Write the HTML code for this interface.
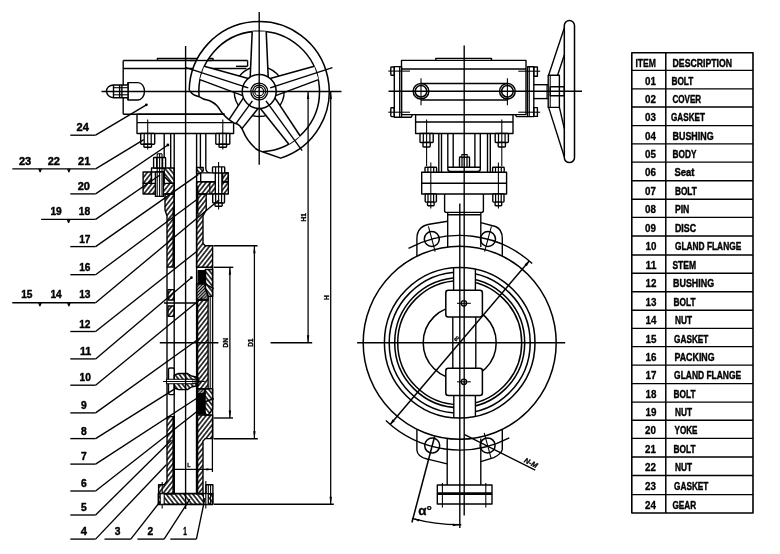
<!DOCTYPE html>
<html lang="en"><head><meta charset="utf-8"><title>Butterfly valve - parts list</title>
<style>
html,body{margin:0;padding:0;background:#fff;}
body{width:780px;height:554px;overflow:hidden;}
svg{display:block;font-family:"Liberation Sans",sans-serif;filter:grayscale(1);}
</style></head><body>
<svg width="780" height="554" viewBox="0 0 780 554" stroke="#000" fill="none" stroke-linecap="butt" stroke-linejoin="round">
<defs>
<pattern id="h1" width="3.5" height="3.5" patternUnits="userSpaceOnUse" patternTransform="rotate(-52)"><line x1="-1" y1="1.75" x2="4.5" y2="1.75" stroke="#000" stroke-width="1.45"/></pattern>
<pattern id="h2" width="3.5" height="3.5" patternUnits="userSpaceOnUse" patternTransform="rotate(52)"><line x1="-1" y1="1.75" x2="4.5" y2="1.75" stroke="#000" stroke-width="1.45"/></pattern>
<pattern id="h3" width="2.2" height="2.2" patternUnits="userSpaceOnUse" patternTransform="rotate(-45)"><line x1="-1" y1="1.1" x2="3.2" y2="1.1" stroke="#000" stroke-width="1.3"/></pattern>
</defs>
<rect x="0" y="0" width="780" height="554" fill="#fff" stroke="none"/>
<g id="parts-table">
<rect x="631.8" y="52.75" width="121.2" height="460.25" rx="0" fill="none" stroke-width="1.6"/>
<line x1="665.8" y1="52.75" x2="665.8" y2="513" stroke-width="1.5"/>
<line x1="631.8" y1="70.4" x2="753" y2="70.4" stroke-width="1.4"/>
<line x1="631.8" y1="88.9" x2="753" y2="88.9" stroke-width="1.4"/>
<line x1="631.8" y1="107" x2="753" y2="107" stroke-width="1.4"/>
<line x1="631.8" y1="125.6" x2="753" y2="125.6" stroke-width="1.4"/>
<line x1="631.8" y1="143.9" x2="753" y2="143.9" stroke-width="1.4"/>
<line x1="631.8" y1="162.1" x2="753" y2="162.1" stroke-width="1.4"/>
<line x1="631.8" y1="180.7" x2="753" y2="180.7" stroke-width="1.4"/>
<line x1="631.8" y1="199.2" x2="753" y2="199.2" stroke-width="1.4"/>
<line x1="631.8" y1="217.4" x2="753" y2="217.4" stroke-width="1.4"/>
<line x1="631.8" y1="236" x2="753" y2="236" stroke-width="1.4"/>
<line x1="631.8" y1="255" x2="753" y2="255" stroke-width="1.4"/>
<line x1="631.8" y1="273.2" x2="753" y2="273.2" stroke-width="1.4"/>
<line x1="631.8" y1="291.7" x2="753" y2="291.7" stroke-width="1.4"/>
<line x1="631.8" y1="310.2" x2="753" y2="310.2" stroke-width="1.4"/>
<line x1="631.8" y1="328.4" x2="753" y2="328.4" stroke-width="1.4"/>
<line x1="631.8" y1="346.6" x2="753" y2="346.6" stroke-width="1.4"/>
<line x1="631.8" y1="365.1" x2="753" y2="365.1" stroke-width="1.4"/>
<line x1="631.8" y1="383.6" x2="753" y2="383.6" stroke-width="1.4"/>
<line x1="631.8" y1="402.1" x2="753" y2="402.1" stroke-width="1.4"/>
<line x1="631.8" y1="420.2" x2="753" y2="420.2" stroke-width="1.4"/>
<line x1="631.8" y1="438.4" x2="753" y2="438.4" stroke-width="1.4"/>
<line x1="631.8" y1="457" x2="753" y2="457" stroke-width="1.4"/>
<line x1="631.8" y1="475.5" x2="753" y2="475.5" stroke-width="1.4"/>
<line x1="631.8" y1="494.6" x2="753" y2="494.6" stroke-width="1.4"/>
<text transform="translate(635.4 66.95) scale(0.8619 1.0562)" x="-0.000" y="0" font-size="10" font-weight="bold" stroke="#000" stroke-width="0.3" fill="#000">ITEM</text>
<text transform="translate(672.6 66.95) scale(0.8691 1.0562)" x="-0.000" y="0" font-size="10" font-weight="bold" stroke="#000" stroke-width="0.4" fill="#000">DESCRIPTION</text>
<text transform="translate(645.1 84.6) scale(0.9820 1.0219)" x="-0.000" y="0" font-size="10" font-weight="bold" stroke="#000" stroke-width="0.3" fill="#000">01</text>
<text transform="translate(671.4 84.6) scale(0.8302 1.0219)" x="-0.000" y="0" font-size="10" font-weight="bold" stroke="#000" stroke-width="0.4" fill="#000">BOLT</text>
<text transform="translate(645.1 103.1) scale(0.9820 1.0219)" x="-0.000" y="0" font-size="10" font-weight="bold" stroke="#000" stroke-width="0.3" fill="#000">02</text>
<text transform="translate(672.4 103.1) scale(0.8101 1.0219)" x="-0.000" y="0" font-size="10" font-weight="bold" stroke="#000" stroke-width="0.4" fill="#000">COVER</text>
<text transform="translate(645.1 121.2) scale(0.9820 1.0219)" x="-0.000" y="0" font-size="10" font-weight="bold" stroke="#000" stroke-width="0.3" fill="#000">03</text>
<text transform="translate(671 121.2) scale(0.8163 1.0219)" x="-0.000" y="0" font-size="10" font-weight="bold" stroke="#000" stroke-width="0.4" fill="#000">GASKET</text>
<text transform="translate(645.1 139.8) scale(0.9820 1.0219)" x="-0.000" y="0" font-size="10" font-weight="bold" stroke="#000" stroke-width="0.3" fill="#000">04</text>
<text transform="translate(672.6 139.8) scale(0.8894 1.0219)" x="-0.000" y="0" font-size="10" font-weight="bold" stroke="#000" stroke-width="0.4" fill="#000">BUSHING</text>
<text transform="translate(645.1 158.1) scale(0.9820 1.0219)" x="-0.000" y="0" font-size="10" font-weight="bold" stroke="#000" stroke-width="0.3" fill="#000">05</text>
<text transform="translate(672.6 158.1) scale(0.8270 1.0219)" x="-0.000" y="0" font-size="10" font-weight="bold" stroke="#000" stroke-width="0.4" fill="#000">BODY</text>
<text transform="translate(645.1 176.3) scale(0.9820 1.0219)" x="-0.000" y="0" font-size="10" font-weight="bold" stroke="#000" stroke-width="0.3" fill="#000">06</text>
<text transform="translate(674.5 176.3) scale(0.9431 1.0219)" x="-0.000" y="0" font-size="10" font-weight="bold" stroke="#000" stroke-width="0.4" fill="#000">Seat</text>
<text transform="translate(645.1 194.9) scale(0.9820 1.0219)" x="-0.000" y="0" font-size="10" font-weight="bold" stroke="#000" stroke-width="0.3" fill="#000">07</text>
<text transform="translate(674.9 194.9) scale(0.8302 1.0219)" x="-0.000" y="0" font-size="10" font-weight="bold" stroke="#000" stroke-width="0.4" fill="#000">BOLT</text>
<text transform="translate(645.1 213.4) scale(0.9820 1.0219)" x="-0.000" y="0" font-size="10" font-weight="bold" stroke="#000" stroke-width="0.3" fill="#000">08</text>
<text transform="translate(674.9 213.4) scale(0.8649 1.0219)" x="-0.000" y="0" font-size="10" font-weight="bold" stroke="#000" stroke-width="0.4" fill="#000">PIN</text>
<text transform="translate(645.1 231.6) scale(0.9820 1.0219)" x="-0.000" y="0" font-size="10" font-weight="bold" stroke="#000" stroke-width="0.3" fill="#000">09</text>
<text transform="translate(674.9 231.6) scale(0.8870 1.0219)" x="-0.000" y="0" font-size="10" font-weight="bold" stroke="#000" stroke-width="0.4" fill="#000">DISC</text>
<text transform="translate(645.6 250.2) scale(0.9820 1.0219)" x="-0.000" y="0" font-size="10" font-weight="bold" stroke="#000" stroke-width="0.3" fill="#000">10</text>
<text transform="translate(674.9 250.2) scale(0.8357 1.0219)" x="-0.000" y="0" font-size="10" font-weight="bold" stroke="#000" stroke-width="0.4" fill="#000">GLAND FLANGE</text>
<text transform="translate(645.6 269.2) scale(1.0332 1.0219)" x="-0.000" y="0" font-size="10" font-weight="bold" stroke="#000" stroke-width="0.3" fill="#000">11</text>
<text transform="translate(672.4 269.2) scale(0.8525 1.0219)" x="-0.000" y="0" font-size="10" font-weight="bold" stroke="#000" stroke-width="0.4" fill="#000">STEM</text>
<text transform="translate(645.6 287.4) scale(0.9820 1.0219)" x="-0.000" y="0" font-size="10" font-weight="bold" stroke="#000" stroke-width="0.3" fill="#000">12</text>
<text transform="translate(673.1 287.4) scale(0.8894 1.0219)" x="-0.000" y="0" font-size="10" font-weight="bold" stroke="#000" stroke-width="0.4" fill="#000">BUSHING</text>
<text transform="translate(645.6 305.9) scale(0.9820 1.0219)" x="-0.000" y="0" font-size="10" font-weight="bold" stroke="#000" stroke-width="0.3" fill="#000">13</text>
<text transform="translate(673.5 305.9) scale(0.8302 1.0219)" x="-0.000" y="0" font-size="10" font-weight="bold" stroke="#000" stroke-width="0.4" fill="#000">BOLT</text>
<text transform="translate(645.6 324.4) scale(0.9820 1.0219)" x="-0.000" y="0" font-size="10" font-weight="bold" stroke="#000" stroke-width="0.3" fill="#000">14</text>
<text transform="translate(674.9 324.4) scale(0.8321 1.0219)" x="-0.000" y="0" font-size="10" font-weight="bold" stroke="#000" stroke-width="0.4" fill="#000">NUT</text>
<text transform="translate(645.6 342.6) scale(0.9820 1.0219)" x="-0.000" y="0" font-size="10" font-weight="bold" stroke="#000" stroke-width="0.3" fill="#000">15</text>
<text transform="translate(674.1 342.6) scale(0.8235 1.0219)" x="-0.000" y="0" font-size="10" font-weight="bold" stroke="#000" stroke-width="0.4" fill="#000">GASKET</text>
<text transform="translate(645.6 360.8) scale(0.9820 1.0219)" x="-0.000" y="0" font-size="10" font-weight="bold" stroke="#000" stroke-width="0.3" fill="#000">16</text>
<text transform="translate(674.5 360.8) scale(0.8842 1.0219)" x="-0.000" y="0" font-size="10" font-weight="bold" stroke="#000" stroke-width="0.4" fill="#000">PACKING</text>
<text transform="translate(645.6 379.3) scale(0.9820 1.0219)" x="-0.000" y="0" font-size="10" font-weight="bold" stroke="#000" stroke-width="0.3" fill="#000">17</text>
<text transform="translate(674.1 379.3) scale(0.8458 1.0219)" x="-0.000" y="0" font-size="10" font-weight="bold" stroke="#000" stroke-width="0.4" fill="#000">GLAND FLANGE</text>
<text transform="translate(645.6 397.8) scale(0.9820 1.0219)" x="-0.000" y="0" font-size="10" font-weight="bold" stroke="#000" stroke-width="0.3" fill="#000">18</text>
<text transform="translate(673.5 397.8) scale(0.8302 1.0219)" x="-0.000" y="0" font-size="10" font-weight="bold" stroke="#000" stroke-width="0.4" fill="#000">BOLT</text>
<text transform="translate(645.6 416.3) scale(0.9820 1.0219)" x="-0.000" y="0" font-size="10" font-weight="bold" stroke="#000" stroke-width="0.3" fill="#000">19</text>
<text transform="translate(674.9 416.3) scale(0.8321 1.0219)" x="-0.000" y="0" font-size="10" font-weight="bold" stroke="#000" stroke-width="0.4" fill="#000">NUT</text>
<text transform="translate(645.1 434.4) scale(0.9820 1.0219)" x="-0.000" y="0" font-size="10" font-weight="bold" stroke="#000" stroke-width="0.3" fill="#000">20</text>
<text transform="translate(674.5 434.4) scale(0.8113 1.0219)" x="-0.000" y="0" font-size="10" font-weight="bold" stroke="#000" stroke-width="0.4" fill="#000">YOKE</text>
<text transform="translate(645.1 452.6) scale(0.9820 1.0219)" x="-0.000" y="0" font-size="10" font-weight="bold" stroke="#000" stroke-width="0.3" fill="#000">21</text>
<text transform="translate(673.5 452.6) scale(0.8302 1.0219)" x="-0.000" y="0" font-size="10" font-weight="bold" stroke="#000" stroke-width="0.4" fill="#000">BOLT</text>
<text transform="translate(645.1 471.2) scale(0.9820 1.0219)" x="-0.000" y="0" font-size="10" font-weight="bold" stroke="#000" stroke-width="0.3" fill="#000">22</text>
<text transform="translate(674.9 471.2) scale(0.8321 1.0219)" x="-0.000" y="0" font-size="10" font-weight="bold" stroke="#000" stroke-width="0.4" fill="#000">NUT</text>
<text transform="translate(645.1 489.7) scale(0.9820 1.0219)" x="-0.000" y="0" font-size="10" font-weight="bold" stroke="#000" stroke-width="0.3" fill="#000">23</text>
<text transform="translate(674.1 489.7) scale(0.8235 1.0219)" x="-0.000" y="0" font-size="10" font-weight="bold" stroke="#000" stroke-width="0.4" fill="#000">GASKET</text>
<text transform="translate(645.1 508.8) scale(0.9820 1.0219)" x="-0.000" y="0" font-size="10" font-weight="bold" stroke="#000" stroke-width="0.3" fill="#000">24</text>
<text transform="translate(672.4 508.8) scale(0.8201 1.0219)" x="-0.000" y="0" font-size="10" font-weight="bold" stroke="#000" stroke-width="0.4" fill="#000">GEAR</text>
</g>
<g id="section-view">
<line x1="123.2" y1="60.5" x2="123.2" y2="114.2" stroke-width="1.38"/>
<line x1="123.2" y1="60.5" x2="247.6" y2="60.5" stroke-width="1.38"/>
<line x1="123.2" y1="68.5" x2="246.5" y2="68.5" stroke-width="1.38"/>
<line x1="247.6" y1="60.5" x2="247.6" y2="66.3" stroke-width="1.38"/>
<line x1="236" y1="66.3" x2="247.6" y2="66.3" stroke-width="1.38"/>
<line x1="123.2" y1="114.2" x2="224.5" y2="114.2" stroke-width="1.38"/>
<path d="M157.4 60.5 L157.4 58.5 L213 58.5 L213 60.5" fill="none" stroke-width="1.38"/>
<path d="M224.5 114.2 L137 114.2 L137 133.5 L233.6 133.5 L233.6 122.6" fill="none" stroke-width="1.38"/>
<line x1="137" y1="122.6" x2="233.6" y2="122.6" stroke-width="1.38"/>
<path d="M128 82.6 L138 82.6 A6.5 8.7 0 0 1 138 100 L128 100 Z" fill="#fff" stroke-width="1.38"/>
<path d="M128 85 L113.5 85 A7 6.35 0 0 0 113.5 97.7 L128 97.7" fill="#fff" stroke-width="1.38"/>
<line x1="113.5" y1="85" x2="113.5" y2="97.7" stroke-width="1.38"/>
<line x1="119.6" y1="85" x2="119.6" y2="97.7" stroke-width="1.38"/>
<line x1="121.9" y1="85" x2="121.9" y2="97.7" stroke-width="1.38"/>
<line x1="128" y1="82.6" x2="128" y2="100" stroke-width="1.38"/>
<line x1="113.5" y1="87.7" x2="128" y2="87.7" stroke-width="1.08"/>
<line x1="113.5" y1="94.8" x2="128" y2="94.8" stroke-width="1.08"/>
<circle cx="259.2" cy="91.5" r="25" fill="none" stroke-width="1.38"/>
<path d="M189.21 90.28 A70 70 0 1 1 280.6 158.15 L262.46 151.71 A60.3 60.3 0 1 0 199.12 96.65 Z" fill="#fff" stroke-width="0" stroke="none"/>
<path d="M189.21 90.28 A70 70 0 1 1 280.6 158.15 L262.46 151.71 A60.3 60.3 0 1 0 199.12 96.65" fill="none" stroke-width="1.52"/>
<line x1="190" y1="60.5" x2="212" y2="60.5" stroke-width="1.38"/>
<path d="M268.2 77.1 L266.2 31.4 L252.2 31.4 L250.2 77.1 Z" fill="#fff" stroke-width="0" stroke="none"/>
<line x1="268.2" y1="77.1" x2="266.2" y2="31.4" stroke-width="1.52"/>
<line x1="250.2" y1="77.1" x2="252.2" y2="31.4" stroke-width="1.52"/>
<path d="M248.29 78.49 L204.2 66.27 L199.88 79.59 L242.72 95.61 Z" fill="#fff" stroke-width="0" stroke="none"/>
<line x1="248.29" y1="78.49" x2="204.2" y2="66.27" stroke-width="1.52"/>
<line x1="242.72" y1="95.61" x2="199.88" y2="79.59" stroke-width="1.52"/>
<line x1="248.26" y1="87.95" x2="185.97" y2="67.71" stroke-width="1.38"/>
<path d="M275.68 95.61 L318.52 79.59 L314.2 66.27 L270.11 78.49 Z" fill="#fff" stroke-width="0" stroke="none"/>
<line x1="275.68" y1="95.61" x2="318.52" y2="79.59" stroke-width="1.52"/>
<line x1="270.11" y1="78.49" x2="314.2" y2="66.27" stroke-width="1.52"/>
<line x1="270.14" y1="87.95" x2="332.43" y2="67.71" stroke-width="1.38"/>
<path d="M260.38 108.44 L288.86 144.24 L300.19 136.01 L274.95 97.86 Z" fill="#fff" stroke-width="0" stroke="none"/>
<line x1="260.38" y1="108.44" x2="288.86" y2="144.24" stroke-width="1.52"/>
<line x1="274.95" y1="97.86" x2="300.19" y2="136.01" stroke-width="1.52"/>
<line x1="265.96" y1="100.8" x2="302.11" y2="150.56" stroke-width="1.38"/>
<path d="M243.45 97.86 L229.04 119.65 L241.75 128.88 L258.02 108.44 Z" fill="#fff" stroke-width="0" stroke="none"/>
<line x1="243.45" y1="97.86" x2="229.04" y2="119.65" stroke-width="1.52"/>
<line x1="258.02" y1="108.44" x2="241.75" y2="128.88" stroke-width="1.52"/>
<line x1="252.44" y1="100.8" x2="235.69" y2="123.86" stroke-width="1.38"/>
<path d="M189.21 90.28 C189.93 91.00 191.85 93.54 193.50 94.60 C195.15 95.66 197.47 95.92 199.12 96.65 C200.77 97.38 201.45 98.24 203.40 99.00 C205.35 99.76 208.53 100.08 210.80 101.20 C213.07 102.32 215.10 103.75 217.00 105.70 C218.90 107.65 220.32 110.67 222.20 112.90 C224.08 115.13 226.35 117.45 228.30 119.10 C230.25 120.75 232.35 121.95 233.90 122.80 C235.45 123.65 236.30 123.28 237.60 124.20 C238.90 125.12 240.33 126.23 241.70 128.30 C243.07 130.37 244.25 134.02 245.80 136.60 C247.35 139.18 249.13 141.65 251.00 143.80 C252.87 145.95 255.09 148.18 257.00 149.50 C258.91 150.82 261.55 151.34 262.46 151.71" fill="none" stroke-width="1.52"/>
<circle cx="259.2" cy="91.5" r="17" fill="#fff" stroke-width="1.52"/>
<line x1="248.26" y1="87.95" x2="243.03" y2="86.25" stroke-width="1.38"/>
<line x1="270.14" y1="87.95" x2="275.37" y2="86.25" stroke-width="1.38"/>
<line x1="265.96" y1="100.8" x2="269.19" y2="105.25" stroke-width="1.38"/>
<line x1="252.44" y1="100.8" x2="249.21" y2="105.25" stroke-width="1.38"/>
<circle cx="259.2" cy="91.5" r="8.4" fill="none" stroke-width="1.31"/>
<circle cx="259.2" cy="91.5" r="6.4" fill="none" stroke-width="1.1"/>
<circle cx="259.2" cy="91.5" r="4.4" fill="none" stroke-width="1.1"/>
<line x1="259.2" y1="12" x2="259.2" y2="164.7" stroke-width="1.38"/>
<line x1="101.5" y1="91.5" x2="341.5" y2="91.5" stroke-width="1.38"/>
<rect x="140.7" y="133.5" width="14" height="10.7" rx="0.8" fill="#fff" stroke-width="1.38"/>
<line x1="144.2" y1="133.5" x2="144.2" y2="144.2" stroke-width="1.24"/>
<line x1="151.2" y1="133.5" x2="151.2" y2="144.2" stroke-width="1.24"/>
<rect x="143.9" y="144.2" width="7.6" height="3.1" rx="0.8" fill="#fff" stroke-width="1.38"/>
<line x1="147.7" y1="119.5" x2="147.7" y2="149.6" stroke-width="1.08"/>
<rect x="215.8" y="133.5" width="14" height="10.7" rx="0.8" fill="#fff" stroke-width="1.38"/>
<line x1="219.3" y1="133.5" x2="219.3" y2="144.2" stroke-width="1.24"/>
<line x1="226.3" y1="133.5" x2="226.3" y2="144.2" stroke-width="1.24"/>
<rect x="219" y="144.2" width="7.6" height="3.1" rx="0.8" fill="#fff" stroke-width="1.38"/>
<line x1="222.8" y1="119.5" x2="222.8" y2="149.6" stroke-width="1.08"/>
<line x1="164.2" y1="133.5" x2="164.2" y2="168" stroke-width="1.38"/>
<line x1="170.7" y1="133.5" x2="170.7" y2="168" stroke-width="1.38"/>
<line x1="200.4" y1="133.5" x2="200.4" y2="167.5" stroke-width="1.38"/>
<path d="M205.8 133.5 L205.8 168 Q205.8 172.9 210.5 172.9" fill="none" stroke-width="1.38"/>
<line x1="174.2" y1="133.5" x2="174.2" y2="493.7" stroke-width="1.38"/>
<line x1="196.6" y1="133.5" x2="196.6" y2="493.7" stroke-width="1.38"/>
<rect x="143.1" y="183.4" width="31.1" height="10.6" rx="0" fill="url(#h1)" stroke-width="1.38"/>
<rect x="143.1" y="172" width="8.4" height="11.4" rx="0" fill="url(#h1)" stroke-width="1.38"/>
<path d="M151.5 172 L151.5 168 L164.2 168" fill="none" stroke-width="1.38"/>
<rect x="151.5" y="172" width="12.7" height="11.4" rx="0" fill="#fff" stroke-width="1.38"/>
<path d="M164.2 168 L174.2 168 L174.2 183.4 L171 183.4 L164.2 176.5 Z" fill="url(#h2)" stroke-width="1.38"/>
<rect x="155.4" y="172" width="8" height="24.4" rx="0" fill="#fff" stroke-width="1.38"/>
<rect x="153.6" y="157.5" width="12" height="10.5" rx="0.8" fill="#fff" stroke-width="1.38"/>
<line x1="156.6" y1="157.5" x2="156.6" y2="168" stroke-width="1.24"/>
<line x1="162.6" y1="157.5" x2="162.6" y2="168" stroke-width="1.24"/>
<line x1="157.2" y1="153.8" x2="157.2" y2="196.4" stroke-width="1.08"/>
<line x1="159.6" y1="153.8" x2="159.6" y2="196.4" stroke-width="1.08"/>
<line x1="162" y1="153.8" x2="162" y2="196.4" stroke-width="1.08"/>
<line x1="157.2" y1="153.8" x2="162" y2="153.8" stroke-width="1.08"/>
<path d="M196.6 167.5 L203.2 167.5 L203.2 171 L199.4 173.7 L196.6 173.7 Z" fill="url(#h2)" stroke-width="1.38"/>
<rect x="200.7" y="172.9" width="27.6" height="8.9" rx="0" fill="#fff" stroke-width="1.38"/>
<rect x="222.6" y="172.9" width="5.7" height="8.9" rx="0" fill="url(#h1)" stroke-width="1.38"/>
<rect x="196.6" y="181.8" width="31.7" height="12.2" rx="0" fill="url(#h1)" stroke-width="1.38"/>
<rect x="215.3" y="172.9" width="6.6" height="21.1" rx="0" fill="#fff" stroke-width="1.38"/>
<rect x="212.5" y="166.9" width="12.2" height="6" rx="0.8" fill="#fff" stroke-width="1.38"/>
<line x1="215.55" y1="166.9" x2="215.55" y2="172.9" stroke-width="1.24"/>
<line x1="221.65" y1="166.9" x2="221.65" y2="172.9" stroke-width="1.24"/>
<rect x="212.7" y="194" width="11.8" height="9" rx="0.8" fill="#fff" stroke-width="1.38"/>
<line x1="215.65" y1="194" x2="215.65" y2="203" stroke-width="1.24"/>
<line x1="221.55" y1="194" x2="221.55" y2="203" stroke-width="1.24"/>
<rect x="215" y="203" width="7.2" height="3.2" rx="0.8" fill="#fff" stroke-width="1.38"/>
<line x1="218.6" y1="162" x2="218.6" y2="209.5" stroke-width="1.08"/>
<line x1="209.8" y1="181.8" x2="209.8" y2="194" stroke-width="1.08"/>
<path d="M165 194 L174.2 194 L174.2 267 L167 267 L167 216 L165 210 Z" fill="url(#h1)" stroke-width="1.38"/>
<path d="M196.6 194 L206.2 194 L206.2 210 L203 216 L203 243.5 L205.3 245.8 L212.6 245.8 L212.6 267.3 L196.6 267.3 Z" fill="url(#h1)" stroke-width="1.38"/>
<line x1="173.6" y1="208" x2="173.6" y2="265.5" stroke-width="2.21"/>
<line x1="197.4" y1="186" x2="197.4" y2="214" stroke-width="2.21"/>
<line x1="167" y1="267" x2="167" y2="416.6" stroke-width="1.38"/>
<line x1="212.6" y1="267.3" x2="212.6" y2="438.5" stroke-width="1.38"/>
<path d="M205.4 269.5 L212.6 269.5 L212.6 296.4 L208.4 296.4 L205.4 289 Z" fill="url(#h2)" stroke-width="1.38"/>
<rect x="198.2" y="270.8" width="7.2" height="13" rx="0" fill="#000" stroke-width="1.38"/>
<path d="M196.6 283.8 L205.4 283.8 L205.4 289 L208.2 296.4 L208.2 300 L196.6 300 Z" fill="url(#h3)" stroke-width="1.38"/>
<line x1="205.4" y1="283.8" x2="213.6" y2="288.6" stroke-width="1.38"/>
<rect x="197.6" y="300" width="10.5" height="88.8" rx="0" fill="url(#h1)" stroke-width="1.38"/>
<line x1="210.2" y1="296.4" x2="210.2" y2="388.8" stroke-width="1.08"/>
<rect x="168" y="289.6" width="6.2" height="10.4" rx="0" fill="url(#h1)" stroke-width="1.38"/>
<rect x="168" y="306" width="6.2" height="10.4" rx="0" fill="url(#h1)" stroke-width="1.38"/>
<line x1="164" y1="303" x2="198" y2="303" stroke-width="1.38"/>
<rect x="168.5" y="368" width="5.7" height="26.6" rx="1.5" fill="#fff" stroke-width="1.38"/>
<path d="M174.2 375.2 L178.5 373.5 L187.5 373.5 L191.5 376 L198 377.5 L198 385.5 L191.5 387 L187.5 389.6 L178.5 389.6 L174.2 388 Z" fill="url(#h2)" stroke-width="1.38"/>
<rect x="166.5" y="379.3" width="26.5" height="4.4" rx="0" fill="#fff" stroke-width="1.08"/>
<path d="M193 379.3 L201.5 381.5 L193 383.7" fill="#fff" stroke-width="1.24"/>
<line x1="163" y1="381.5" x2="204.8" y2="381.5" stroke-width="1.08"/>
<path d="M205 388.8 L212.6 388.8 L212.6 409 L208.5 415 L205 415 Z" fill="url(#h2)" stroke-width="1.38"/>
<rect x="197.6" y="394" width="7" height="20" rx="0" fill="#000" stroke-width="1.38"/>
<rect x="197.6" y="388.8" width="7.4" height="5.2" rx="0" fill="url(#h3)" stroke-width="1.38"/>
<line x1="204.6" y1="402" x2="213.8" y2="398.5" stroke-width="1.38"/>
<path d="M196.6 415 L212.6 415 L212.6 438.6 L205.5 438.6 L203 441 L203 493.7 L196.6 493.7 Z" fill="url(#h1)" stroke-width="1.38"/>
<path d="M167 416.6 L174.2 416.6 L174.2 493.7 L158.6 493.7 L158.6 484.8 L164.2 484.8 L167 481 Z" fill="url(#h1)" stroke-width="1.38"/>
<line x1="173.5" y1="416.6" x2="173.5" y2="493.7" stroke-width="2.21"/>
<line x1="197.2" y1="416" x2="197.2" y2="493.7" stroke-width="2.21"/>
<rect x="158.4" y="493.7" width="54.5" height="10.6" rx="0" fill="url(#h2)" stroke-width="1.66"/>
<rect x="206" y="484.8" width="6.9" height="8.9" rx="0" fill="#fff" stroke-width="1.38"/>
<line x1="208.3" y1="484.8" x2="208.3" y2="504.3" stroke-width="1.08"/>
<line x1="210.6" y1="484.8" x2="210.6" y2="504.3" stroke-width="1.08"/>
<rect x="203.4" y="493.7" width="4.8" height="10.6" rx="0" fill="#fff" stroke-width="1.08"/>
<line x1="162.2" y1="482" x2="162.2" y2="508.5" stroke-width="1.08"/>
<line x1="205.8" y1="481" x2="205.8" y2="508.5" stroke-width="1.08"/>
<rect x="160.2" y="493.7" width="4" height="10.6" rx="0" fill="#fff" stroke-width="1.08"/>
<line x1="185.6" y1="46" x2="185.6" y2="509" stroke-width="1.38"/>
<line x1="159.8" y1="342.75" x2="218.4" y2="342.75" stroke-width="1.38"/>
<line x1="212.4" y1="438.6" x2="212.4" y2="472" stroke-width="1.27"/>
<line x1="174.2" y1="469.4" x2="212.4" y2="469.4" stroke-width="1.27"/>
<path d="M212.4 469.4 L206.4 470.5 L206.4 468.3 Z" fill="#000" stroke="none"/>
<text transform="translate(188.8 466.6) scale(0.9 1)" font-size="6" font-weight="bold" text-anchor="middle" fill="#000" stroke="#000" stroke-width="0.3">L</text>
<line x1="213.6" y1="267.3" x2="233.3" y2="267.3" stroke-width="1.38"/>
<line x1="213.6" y1="418" x2="233" y2="418" stroke-width="1.38"/>
<line x1="229.9" y1="267.3" x2="229.9" y2="418" stroke-width="1.27"/>
<path d="M229.9 267.3 L231.1 274.8 L228.7 274.8 Z" fill="#000" stroke="none"/>
<path d="M229.9 418 L228.7 410.5 L231.1 410.5 Z" fill="#000" stroke="none"/>
<text transform="translate(228 342.7) rotate(-90)" font-size="6.5" font-weight="bold" text-anchor="middle" fill="#000" stroke="#000" stroke-width="0.3">DN</text>
<line x1="213.4" y1="245.8" x2="257.6" y2="245.8" stroke-width="1.38"/>
<line x1="213.6" y1="438.7" x2="257.8" y2="438.7" stroke-width="1.38"/>
<line x1="254.4" y1="245.8" x2="254.4" y2="438.7" stroke-width="1.27"/>
<path d="M254.4 245.8 L255.6 253.3 L253.2 253.3 Z" fill="#000" stroke="none"/>
<path d="M254.4 438.7 L253.2 431.2 L255.6 431.2 Z" fill="#000" stroke="none"/>
<text transform="translate(252.6 342.7) rotate(-90)" font-size="6.5" font-weight="bold" text-anchor="middle" fill="#000" stroke="#000" stroke-width="0.3">D1</text>
<line x1="270.6" y1="342.75" x2="312.2" y2="342.75" stroke-width="1.38"/>
<line x1="308.1" y1="91.4" x2="308.1" y2="342.7" stroke-width="1.27"/>
<path d="M308.1 91.4 L309.3 98.9 L306.9 98.9 Z" fill="#000" stroke="none"/>
<path d="M308.1 342.7 L306.9 335.2 L309.3 335.2 Z" fill="#000" stroke="none"/>
<text transform="translate(306.3 217.4) rotate(-90)" font-size="6.5" font-weight="bold" text-anchor="middle" fill="#000" stroke="#000" stroke-width="0.3">H1</text>
<line x1="214" y1="504.3" x2="333.8" y2="504.3" stroke-width="1.38"/>
<line x1="330.7" y1="91.4" x2="330.7" y2="504.3" stroke-width="1.27"/>
<path d="M330.7 91.4 L331.9 98.9 L329.5 98.9 Z" fill="#000" stroke="none"/>
<path d="M330.7 504.3 L329.5 496.8 L331.9 496.8 Z" fill="#000" stroke="none"/>
<text transform="translate(328.8 297.7) rotate(-90)" font-size="6.5" font-weight="bold" text-anchor="middle" fill="#000" stroke="#000" stroke-width="0.3">H</text>
</g>
<g id="front-view">
<rect x="401.5" y="60.4" width="124.5" height="54.2" rx="0" fill="none" stroke-width="1.38"/>
<line x1="401.5" y1="69" x2="526" y2="69" stroke-width="1.38"/>
<path d="M435.8 60.4 L435.8 58.4 L491.5 58.4 L491.5 60.4" fill="none" stroke-width="1.38"/>
<rect x="394.3" y="66.6" width="7.2" height="50.6" rx="0" fill="none" stroke-width="1.38"/>
<line x1="399.6" y1="66.6" x2="399.6" y2="117.2" stroke-width="1.08"/>
<rect x="390.8" y="67" width="3.5" height="8.2" rx="0.8" fill="none" stroke-width="1.38"/>
<rect x="390.8" y="107.8" width="3.5" height="8.8" rx="0.8" fill="none" stroke-width="1.38"/>
<line x1="388.3" y1="71.1" x2="410" y2="71.1" stroke-width="1.08"/>
<line x1="388.3" y1="112.2" x2="410" y2="112.2" stroke-width="1.08"/>
<path d="M401.5 117.2 L411.2 117.2 L412.4 114.6" fill="none" stroke-width="1.38"/>
<rect x="527.6" y="66.8" width="6.2" height="49.8" rx="0" fill="none" stroke-width="1.38"/>
<line x1="529.3" y1="66.8" x2="529.3" y2="116.6" stroke-width="1.08"/>
<rect x="533.8" y="67" width="3.6" height="9.2" rx="0" fill="none" stroke-width="1.38"/>
<rect x="533.8" y="107.6" width="3.6" height="8.8" rx="0" fill="none" stroke-width="1.38"/>
<line x1="518.3" y1="71.2" x2="540.2" y2="71.2" stroke-width="1.08"/>
<line x1="518.3" y1="112.2" x2="540.2" y2="112.2" stroke-width="1.08"/>
<path d="M527.6 116.6 L516.6 116.6 L515.2 114.6" fill="none" stroke-width="1.38"/>
<circle cx="421" cy="91.3" r="7.8" fill="none" stroke-width="1.52"/>
<circle cx="421" cy="91.3" r="5.8" fill="none" stroke-width="1.52"/>
<line x1="421" y1="78.3" x2="421" y2="105.2" stroke-width="1.08"/>
<circle cx="507.4" cy="91.3" r="7.8" fill="none" stroke-width="1.52"/>
<circle cx="507.4" cy="91.3" r="5.8" fill="none" stroke-width="1.52"/>
<line x1="507.4" y1="78.3" x2="507.4" y2="105.2" stroke-width="1.08"/>
<line x1="421" y1="83.5" x2="507.4" y2="83.5" stroke-width="1.38"/>
<line x1="421" y1="100" x2="507.4" y2="100" stroke-width="1.38"/>
<rect x="415.6" y="114.6" width="97.4" height="18.9" rx="0" fill="none" stroke-width="1.38"/>
<line x1="415.6" y1="122" x2="513" y2="122" stroke-width="1.38"/>
<path d="M533.8 84.7 L548.2 84.7" fill="none" stroke-width="1.38"/>
<path d="M533.8 98.6 L548.2 98.6" fill="none" stroke-width="1.38"/>
<line x1="547" y1="84.7" x2="547" y2="98.6" stroke-width="1.08"/>
<rect x="548.2" y="75.3" width="11.2" height="32.1" rx="0" fill="none" stroke-width="1.38"/>
<line x1="550.2" y1="75.3" x2="550.2" y2="107.4" stroke-width="1.08"/>
<rect x="550.2" y="86.7" width="14.1" height="9.1" rx="0" fill="none" stroke-width="1.38"/>
<rect x="564.3" y="20.5" width="10.2" height="142.1" rx="5.1" fill="none" stroke-width="1.52"/>
<line x1="564.3" y1="28" x2="548.6" y2="75.3" stroke-width="1.38"/>
<line x1="564.3" y1="55" x2="557.6" y2="75.3" stroke-width="1.38"/>
<line x1="548.6" y1="107.4" x2="564.3" y2="156.7" stroke-width="1.38"/>
<line x1="559.4" y1="107.4" x2="564.3" y2="128.7" stroke-width="1.38"/>
<line x1="388.5" y1="91.3" x2="582" y2="91.3" stroke-width="1.38"/>
<rect x="420" y="133.5" width="13.2" height="9" rx="0.8" fill="#fff" stroke-width="1.38"/>
<line x1="423.3" y1="133.5" x2="423.3" y2="142.5" stroke-width="1.24"/>
<line x1="429.9" y1="133.5" x2="429.9" y2="142.5" stroke-width="1.24"/>
<rect x="423" y="142.5" width="7.2" height="4.5" rx="0.8" fill="#fff" stroke-width="1.38"/>
<line x1="426.6" y1="119.5" x2="426.6" y2="166" stroke-width="1.08"/>
<rect x="495.2" y="133.5" width="13.2" height="9" rx="0.8" fill="#fff" stroke-width="1.38"/>
<line x1="498.5" y1="133.5" x2="498.5" y2="142.5" stroke-width="1.24"/>
<line x1="505.1" y1="133.5" x2="505.1" y2="142.5" stroke-width="1.24"/>
<rect x="498.2" y="142.5" width="7.2" height="4.5" rx="0.8" fill="#fff" stroke-width="1.38"/>
<line x1="501.8" y1="119.5" x2="501.8" y2="166" stroke-width="1.08"/>
<line x1="438.8" y1="133.5" x2="438.8" y2="172.3" stroke-width="1.38"/>
<line x1="441.5" y1="133.5" x2="441.5" y2="172.3" stroke-width="1.38"/>
<line x1="487.5" y1="133.5" x2="487.5" y2="172.3" stroke-width="1.38"/>
<line x1="490.3" y1="133.5" x2="490.3" y2="172.3" stroke-width="1.38"/>
<line x1="447.8" y1="133.5" x2="447.8" y2="167.3" stroke-width="1.38"/>
<line x1="453.2" y1="133.5" x2="453.2" y2="167.3" stroke-width="1.38"/>
<line x1="474.9" y1="133.5" x2="474.9" y2="167.3" stroke-width="1.38"/>
<line x1="480.3" y1="133.5" x2="480.3" y2="167.3" stroke-width="1.38"/>
<path d="M447.8 167.3 L480.3 167.3 L480.3 169 Q480.3 171.5 477.5 171.5 L450.6 171.5 Q447.8 171.5 447.8 169 Z" fill="#fff" stroke-width="1.38"/>
<rect x="459.5" y="157" width="10" height="10.3" rx="0.8" fill="#fff" stroke-width="1.38"/>
<line x1="462" y1="157" x2="462" y2="167.3" stroke-width="1.24"/>
<line x1="467" y1="157" x2="467" y2="167.3" stroke-width="1.24"/>
<line x1="461.5" y1="157" x2="467.5" y2="157" stroke-width="1.38"/>
<rect x="461.8" y="154.6" width="5.4" height="2.4" rx="0" fill="#fff" stroke-width="1.08"/>
<rect x="421.7" y="172.3" width="84.9" height="21.7" rx="0" fill="none" stroke-width="1.38"/>
<line x1="421.7" y1="183.2" x2="506.6" y2="183.2" stroke-width="1.38"/>
<rect x="425" y="167.3" width="11.6" height="5" rx="0.8" fill="#fff" stroke-width="1.38"/>
<line x1="427.9" y1="167.3" x2="427.9" y2="172.3" stroke-width="1.24"/>
<line x1="433.7" y1="167.3" x2="433.7" y2="172.3" stroke-width="1.24"/>
<rect x="425.2" y="194" width="11.2" height="8.1" rx="0.8" fill="#fff" stroke-width="1.38"/>
<line x1="428" y1="194" x2="428" y2="202.1" stroke-width="1.24"/>
<line x1="433.6" y1="194" x2="433.6" y2="202.1" stroke-width="1.24"/>
<rect x="427.5" y="202.1" width="6.6" height="3.7" rx="0.8" fill="#fff" stroke-width="1.38"/>
<line x1="430.8" y1="162.4" x2="430.8" y2="208.6" stroke-width="1.08"/>
<rect x="492.6" y="167.3" width="11.6" height="5" rx="0.8" fill="#fff" stroke-width="1.38"/>
<line x1="495.5" y1="167.3" x2="495.5" y2="172.3" stroke-width="1.24"/>
<line x1="501.3" y1="167.3" x2="501.3" y2="172.3" stroke-width="1.24"/>
<rect x="492.8" y="194" width="11.2" height="8.1" rx="0.8" fill="#fff" stroke-width="1.38"/>
<line x1="495.6" y1="194" x2="495.6" y2="202.1" stroke-width="1.24"/>
<line x1="501.2" y1="194" x2="501.2" y2="202.1" stroke-width="1.24"/>
<rect x="495.1" y="202.1" width="6.6" height="3.7" rx="0.8" fill="#fff" stroke-width="1.38"/>
<line x1="498.4" y1="162.4" x2="498.4" y2="208.6" stroke-width="1.08"/>
<path d="M444.6 194 L444.6 210.4 Q444.6 212.4 446.6 212.4 L481.4 212.4 Q483.4 212.4 483.4 210.4 L483.4 194" fill="none" stroke-width="1.38"/>
<line x1="447.7" y1="214.7" x2="480.8" y2="214.7" stroke-width="1.38"/>
<line x1="447.7" y1="212.4" x2="447.7" y2="247" stroke-width="1.38"/>
<line x1="480.8" y1="212.4" x2="480.8" y2="247" stroke-width="1.38"/>
<circle cx="459.7" cy="342.7" r="70.5" fill="none" stroke-width="1.52"/>
<circle cx="459.7" cy="342.7" r="65" fill="none" stroke-width="1.52"/>
<circle cx="459.7" cy="342.7" r="62" fill="none" stroke-width="1.52"/>
<circle cx="459.7" cy="342.7" r="36.5" fill="none" stroke-width="1.52"/>
<rect x="453.6" y="267.6" width="21.8" height="23.4" rx="0" fill="#fff" stroke-width="1.38" stroke="none"/>
<rect x="453.8" y="395" width="21.6" height="23" rx="0" fill="#fff" stroke-width="1.38" stroke="none"/>
<line x1="453.6" y1="267.7" x2="453.6" y2="290.3" stroke-width="1.38"/>
<line x1="475.4" y1="268.8" x2="475.4" y2="290.3" stroke-width="1.38"/>
<line x1="453.8" y1="395.4" x2="453.8" y2="417.8" stroke-width="1.38"/>
<line x1="475.4" y1="395.4" x2="475.4" y2="416.6" stroke-width="1.38"/>
<rect x="445.8" y="290.3" width="36.6" height="26.6" rx="2.5" fill="#fff" stroke-width="1.52"/>
<rect x="445.8" y="368.2" width="36.6" height="27.2" rx="2.5" fill="#fff" stroke-width="1.52"/>
<line x1="452.8" y1="316.9" x2="452.8" y2="368.2" stroke-width="1.38"/>
<line x1="475.8" y1="316.9" x2="475.8" y2="368.2" stroke-width="1.38"/>
<circle cx="459.7" cy="342.7" r="75.3" fill="none" stroke-width="1.52"/>
<circle cx="459.7" cy="342.7" r="96.5" fill="none" stroke-width="1.52"/>
<circle cx="463.9" cy="303.3" r="2.7" fill="none" stroke-width="1.38"/>
<line x1="457" y1="303.3" x2="470.8" y2="303.3" stroke-width="1.08"/>
<circle cx="463.9" cy="381.8" r="2.7" fill="none" stroke-width="1.38"/>
<line x1="457" y1="381.8" x2="470.8" y2="381.8" stroke-width="1.08"/>
<path d="M447.7 221.2 L429.2 224.2 Q416.9 226.5 416.9 238.5 L416.9 256.2" fill="none" stroke-width="1.38"/>
<path d="M480.8 222.7 L495.4 226.5 Q502.3 229.2 502.3 238.5 L502.3 256.2" fill="none" stroke-width="1.38"/>
<path d="M416.9 429.2 L416.9 450 Q417.3 457 427.7 459.2 L447.2 463.9" fill="none" stroke-width="1.38"/>
<path d="M502.3 429.2 L502.3 449.5 Q501.6 453.5 493.8 457.7 L480.8 461.6" fill="none" stroke-width="1.38"/>
<circle cx="431.8" cy="239" r="7.5" fill="none" stroke-width="1.52"/>
<circle cx="488" cy="239" r="7.5" fill="none" stroke-width="1.52"/>
<circle cx="432.2" cy="445.6" r="7.5" fill="none" stroke-width="1.52"/>
<circle cx="487.6" cy="445.4" r="7.5" fill="none" stroke-width="1.52"/>
<line x1="435.18" y1="251.55" x2="428.42" y2="226.45" stroke-width="1.08"/>
<line x1="484.58" y1="251.54" x2="491.42" y2="226.46" stroke-width="1.08"/>
<line x1="484.19" y1="432.85" x2="491.27" y2="458.91" stroke-width="1.08"/>
<path d="M408.5 248.4 A107.3 107.3 0 0 1 532.19 263.59" fill="none" stroke-width="1.38"/>
<path d="M509.25 437.88 A107.3 107.3 0 0 1 385.84 420.53" fill="none" stroke-width="1.38"/>
<line x1="529.24" y1="260.99" x2="390.16" y2="424.41" stroke-width="1.52"/>
<path d="M529.24 260.99 L526.82 266.15 L524.54 264.2 Z" fill="#000" stroke="none"/>
<path d="M390.16 424.41 L392.58 419.25 L394.86 421.2 Z" fill="#000" stroke="none"/>
<text transform="translate(457.6 339.5) rotate(-49.6) scale(0.8 1)" font-size="4.2" font-weight="bold" text-anchor="middle" fill="#000" stroke="#000" stroke-width="0.3">ØD</text>
<line x1="459.8" y1="203.5" x2="459.8" y2="528" stroke-width="1.38"/>
<line x1="464.2" y1="45.4" x2="464.2" y2="515.5" stroke-width="1.38"/>
<line x1="357.1" y1="342.7" x2="565.2" y2="342.7" stroke-width="1.38"/>
<line x1="447.2" y1="438.4" x2="447.2" y2="485" stroke-width="1.38"/>
<line x1="480.8" y1="438.4" x2="480.8" y2="485" stroke-width="1.38"/>
<rect x="437.3" y="485" width="54.7" height="19" rx="0" fill="none" stroke-width="1.38"/>
<line x1="437.3" y1="493.6" x2="492" y2="493.6" stroke-width="2.76"/>
<line x1="442.4" y1="483" x2="442.4" y2="507.5" stroke-width="1.08"/>
<line x1="485.8" y1="483" x2="485.8" y2="507.5" stroke-width="1.08"/>
<line x1="434.7" y1="436.2" x2="411.9" y2="522.5" stroke-width="1.52"/>
<path d="M461.29 524.69 A182 182 0 0 1 411.98 518.33" fill="none" stroke-width="1.38"/>
<path d="M412.4 518.6 L419.48 519.13 L418.9 521.46 Z" fill="#000" stroke="none"/>
<path d="M459.8 524.7 L452.85 526.14 L452.76 523.75 Z" fill="#000" stroke="none"/>
<text transform="translate(418.2 514.6)" font-size="13.5" font-weight="bold" text-anchor="start" fill="#000" stroke="#000" stroke-width="0.3">α°</text>
<line x1="464.6" y1="434.6" x2="535.2" y2="470.1" stroke-width="1.38"/>
<text transform="translate(523.6 462) rotate(26.7)" font-size="7.4" font-weight="bold" text-anchor="start" fill="#000" stroke="#000" stroke-width="0.3" font-style="italic">N-M</text>
</g>
<g id="callouts">
<line x1="70.3" y1="135.2" x2="95.6" y2="135.2" stroke-width="1.35"/>
<line x1="95.6" y1="135.2" x2="146.4" y2="104.8" stroke-width="1.35"/>
<circle cx="146.4" cy="104.8" r="1.4" fill="#000" stroke="none"/>
<text transform="translate(76.5 131.2) scale(1.1081 1.1248)" x="-0.000" y="0" font-size="10" font-weight="bold" stroke="#000" stroke-width="0.4" fill="#000">24</text>
<line x1="70.3" y1="193.9" x2="95.6" y2="193.9" stroke-width="1.35"/>
<line x1="95.6" y1="193.9" x2="167.9" y2="145" stroke-width="1.35"/>
<circle cx="167.9" cy="145" r="1.4" fill="#000" stroke="none"/>
<text transform="translate(77.7 189.9) scale(1.1081 1.1248)" x="-0.000" y="0" font-size="10" font-weight="bold" stroke="#000" stroke-width="0.4" fill="#000">20</text>
<line x1="70.3" y1="246.6" x2="95.6" y2="246.6" stroke-width="1.35"/>
<line x1="95.6" y1="246.6" x2="198.2" y2="174.6" stroke-width="1.35"/>
<text transform="translate(79.2 242.6) scale(1.0180 1.1248)" x="-0.000" y="0" font-size="10" font-weight="bold" stroke="#000" stroke-width="0.4" fill="#000">17</text>
<line x1="70.3" y1="274.7" x2="95.6" y2="274.7" stroke-width="1.35"/>
<line x1="95.6" y1="274.7" x2="196.6" y2="199.8" stroke-width="1.35"/>
<text transform="translate(79.2 270.7) scale(1.0180 1.1248)" x="-0.000" y="0" font-size="10" font-weight="bold" stroke="#000" stroke-width="0.4" fill="#000">16</text>
<line x1="70.3" y1="331.5" x2="95.6" y2="331.5" stroke-width="1.35"/>
<line x1="95.6" y1="331.5" x2="197" y2="251.2" stroke-width="1.35"/>
<text transform="translate(79.2 327.5) scale(1.0180 1.1248)" x="-0.000" y="0" font-size="10" font-weight="bold" stroke="#000" stroke-width="0.4" fill="#000">12</text>
<line x1="70.3" y1="358.9" x2="95.6" y2="358.9" stroke-width="1.35"/>
<line x1="95.6" y1="358.9" x2="191.4" y2="277.7" stroke-width="1.35"/>
<circle cx="191.4" cy="277.7" r="1.4" fill="#000" stroke="none"/>
<text transform="translate(80 354.9) scale(1.0711 1.1248)" x="-0.000" y="0" font-size="10" font-weight="bold" stroke="#000" stroke-width="0.4" fill="#000">11</text>
<line x1="70.3" y1="385.2" x2="95.6" y2="385.2" stroke-width="1.35"/>
<line x1="95.6" y1="385.2" x2="202.5" y2="297.5" stroke-width="1.35"/>
<text transform="translate(79.5 381.2) scale(1.0180 1.1248)" x="-0.000" y="0" font-size="10" font-weight="bold" stroke="#000" stroke-width="0.4" fill="#000">10</text>
<line x1="70.3" y1="412.9" x2="95.6" y2="412.9" stroke-width="1.35"/>
<line x1="95.6" y1="412.9" x2="200" y2="338" stroke-width="1.35"/>
<text transform="translate(80.9 408.9) scale(1.0270 1.1248)" x="-0.000" y="0" font-size="10" font-weight="bold" stroke="#000" stroke-width="0.4" fill="#000">9</text>
<line x1="70.3" y1="438.6" x2="95.6" y2="438.6" stroke-width="1.35"/>
<line x1="95.6" y1="438.6" x2="174.8" y2="388.9" stroke-width="1.35"/>
<text transform="translate(80.9 434.6) scale(1.0270 1.1248)" x="-0.000" y="0" font-size="10" font-weight="bold" stroke="#000" stroke-width="0.4" fill="#000">8</text>
<line x1="70.3" y1="464.1" x2="95.6" y2="464.1" stroke-width="1.35"/>
<line x1="95.6" y1="464.1" x2="205.3" y2="392.8" stroke-width="1.35"/>
<text transform="translate(80.9 460.1) scale(1.0270 1.1248)" x="-0.000" y="0" font-size="10" font-weight="bold" stroke="#000" stroke-width="0.4" fill="#000">7</text>
<line x1="70.3" y1="491" x2="95.6" y2="491" stroke-width="1.35"/>
<line x1="95.6" y1="491" x2="197" y2="411.5" stroke-width="1.35"/>
<text transform="translate(80.9 487) scale(1.0270 1.1248)" x="-0.000" y="0" font-size="10" font-weight="bold" stroke="#000" stroke-width="0.4" fill="#000">6</text>
<line x1="70.3" y1="515" x2="95.6" y2="515" stroke-width="1.35"/>
<line x1="95.6" y1="515" x2="171.5" y2="440" stroke-width="1.35"/>
<text transform="translate(80.9 511) scale(1.0270 1.1248)" x="-0.000" y="0" font-size="10" font-weight="bold" stroke="#000" stroke-width="0.4" fill="#000">5</text>
<line x1="70.3" y1="539.1" x2="95.6" y2="539.1" stroke-width="1.35"/>
<line x1="95.6" y1="539.1" x2="166.3" y2="464.7" stroke-width="1.35"/>
<text transform="translate(80.8 535.1) scale(1.1171 1.1248)" x="-0.000" y="0" font-size="10" font-weight="bold" stroke="#000" stroke-width="0.4" fill="#000">4</text>
<line x1="12.3" y1="168.8" x2="95.6" y2="168.8" stroke-width="1.35"/>
<path d="M38.9 168.8 L40.1 171.8 L41.3 168.8" fill="none" stroke-width="1.38"/>
<path d="M67.7 168.8 L68.9 171.8 L70.1 168.8" fill="none" stroke-width="1.38"/>
<line x1="95.6" y1="168.8" x2="143.8" y2="139.6" stroke-width="1.35"/>
<text transform="translate(18.9 164.6) scale(1.1081 1.1248)" x="-0.000" y="0" font-size="10" font-weight="bold" stroke="#000" stroke-width="0.4" fill="#000">23</text>
<text transform="translate(47.7 164.6) scale(1.1081 1.1248)" x="-0.000" y="0" font-size="10" font-weight="bold" stroke="#000" stroke-width="0.4" fill="#000">22</text>
<text transform="translate(78.1 164.6) scale(1.1081 1.1248)" x="-0.000" y="0" font-size="10" font-weight="bold" stroke="#000" stroke-width="0.4" fill="#000">21</text>
<line x1="41.1" y1="219.4" x2="95.6" y2="219.4" stroke-width="1.35"/>
<path d="M67.4 219.4 L68.6 222.4 L69.8 219.4" fill="none" stroke-width="1.38"/>
<line x1="95.6" y1="219.4" x2="160" y2="175" stroke-width="1.35"/>
<text transform="translate(50.4 215.2) scale(1.0180 1.1248)" x="-0.000" y="0" font-size="10" font-weight="bold" stroke="#000" stroke-width="0.4" fill="#000">19</text>
<text transform="translate(78.8 215.2) scale(1.0180 1.1248)" x="-0.000" y="0" font-size="10" font-weight="bold" stroke="#000" stroke-width="0.4" fill="#000">18</text>
<line x1="12.3" y1="302.75" x2="95.6" y2="302.75" stroke-width="1.35"/>
<path d="M38.7 302.75 L39.9 305.75 L41.1 302.75" fill="none" stroke-width="1.38"/>
<path d="M67.7 302.75 L68.9 305.75 L70.1 302.75" fill="none" stroke-width="1.38"/>
<line x1="95.6" y1="302.75" x2="219.2" y2="199.8" stroke-width="1.35"/>
<text transform="translate(21.2 298.4) scale(1.0180 1.1248)" x="-0.000" y="0" font-size="10" font-weight="bold" stroke="#000" stroke-width="0.4" fill="#000">15</text>
<text transform="translate(50.4 298.4) scale(1.0180 1.1248)" x="-0.000" y="0" font-size="10" font-weight="bold" stroke="#000" stroke-width="0.4" fill="#000">14</text>
<text transform="translate(79.2 298.4) scale(1.0180 1.1248)" x="-0.000" y="0" font-size="10" font-weight="bold" stroke="#000" stroke-width="0.4" fill="#000">13</text>
<line x1="104.5" y1="539.1" x2="130.8" y2="539.1" stroke-width="1.35"/>
<line x1="130.8" y1="539.1" x2="160.2" y2="501.5" stroke-width="1.35"/>
<text transform="translate(114.8 535) scale(1.0270 1.1248)" x="-0.000" y="0" font-size="10" font-weight="bold" stroke="#000" stroke-width="0.4" fill="#000">3</text>
<line x1="137.4" y1="539.1" x2="164.1" y2="539.1" stroke-width="1.35"/>
<line x1="164.1" y1="539.1" x2="189.9" y2="499.2" stroke-width="1.35"/>
<text transform="translate(147.5 535) scale(1.0270 1.1248)" x="-0.000" y="0" font-size="10" font-weight="bold" stroke="#000" stroke-width="0.4" fill="#000">2</text>
<line x1="170.3" y1="539.1" x2="196.4" y2="539.1" stroke-width="1.35"/>
<line x1="196.4" y1="539.1" x2="205" y2="498" stroke-width="1.35"/>
<text transform="translate(183.3 535) scale(0.6486 1.1248)" x="-0.000" y="0" font-size="10" font-weight="bold" stroke="#000" stroke-width="0.4" fill="#000">1</text>
</g>
</svg>
</body></html>
